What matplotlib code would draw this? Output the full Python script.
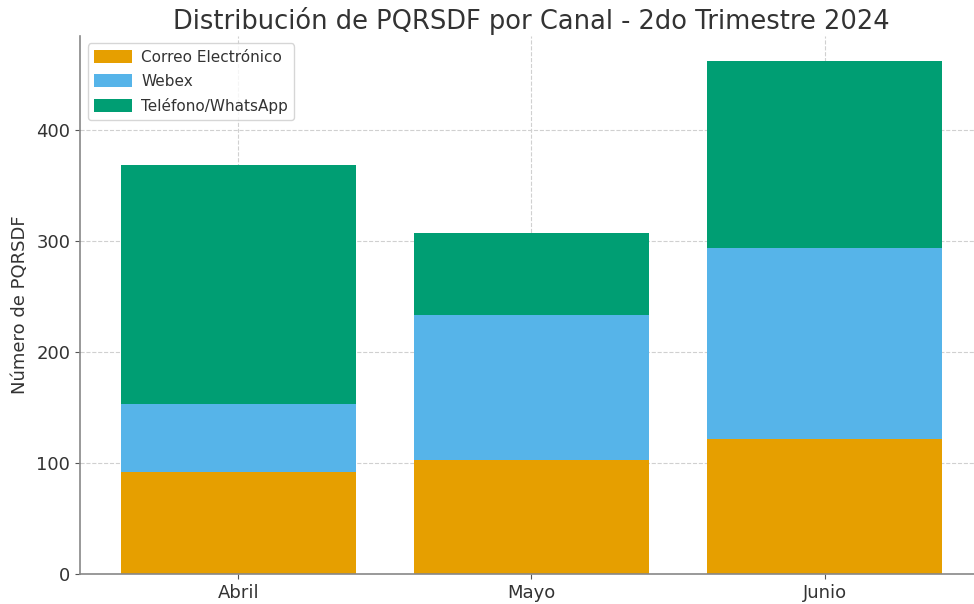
import numpy as np
import matplotlib
matplotlib.use('Agg')
import matplotlib.pyplot as plt

# === Data ===
meses = ['Abril', 'Mayo', 'Junio']
correo = [92, 103, 122]
webex = [61, 130, 172]
telefono = [216, 74, 168]

colores = ['#E69F00', '#56B4E9', '#009E73']

# === Plot ===
fig = plt.figure(figsize=(9.74, 6.04), dpi=100)
ax = fig.add_axes([0.0821, 0.0497, 0.927, 0.891])

x = np.arange(len(meses))
base2 = np.array(correo)
base3 = base2 + np.array(webex)

ax.bar(x, correo, width=0.8, color=colores[0], label='Correo Electrónico', zorder=2)
ax.bar(x, webex, width=0.8, bottom=base2, color=colores[1], label='Webex', zorder=2)
ax.bar(x, telefono, width=0.8, bottom=base3, color=colores[2], label='Teléfono/WhatsApp', zorder=2)

ax.set_xticks(x)
ax.set_xticklabels(meses)
ax.tick_params(axis='both', labelsize=13, labelcolor='#333333', color='#555555')
ax.set_ylabel('Número de PQRSDF', fontsize=13, color='#333333', labelpad=5)
ax.set_title('Distribución de PQRSDF por Canal - 2do Trimestre 2024', fontsize=18.5, color='#333333', pad=5)

ax.grid(True, linestyle='--', color='#d0d0d0', linewidth=0.8, zorder=0)
ax.set_axisbelow(True)
for s in ['top', 'right']:
    ax.spines[s].set_visible(False)
for s in ['left', 'bottom']:
    ax.spines[s].set_color('#888888')
    ax.spines[s].set_linewidth(1.2)

leg = ax.legend(loc='upper left', fontsize=11, frameon=True, handlelength=2.5,
                handleheight=0.9, labelspacing=0.6, handletextpad=0.6)
for t in leg.get_texts():
    t.set_color('#333333')

fig.savefig('out.png', dpi=100)
